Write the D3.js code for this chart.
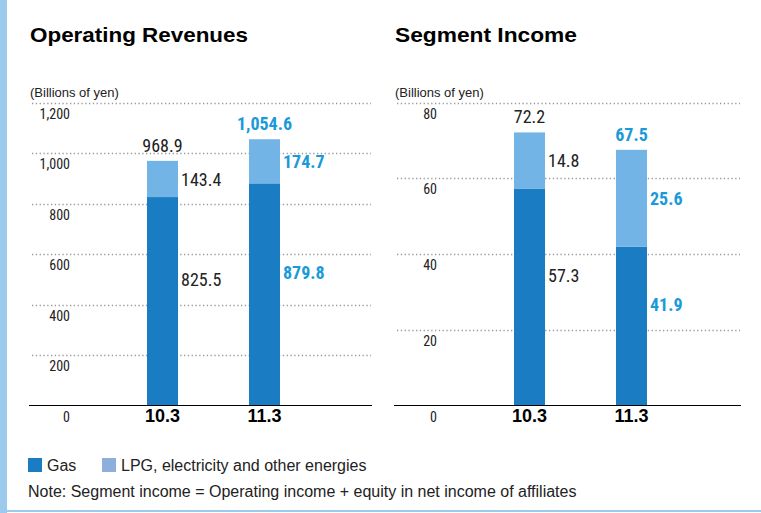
<!DOCTYPE html>
<html lang="en">
<head>
<meta charset="UTF-8">
<title>Operating Revenues / Segment Income</title>
<script src="https://d3js.org/d3.v7.min.js"></script>
<style>
  body { margin: 0; background: #fff; }
  svg { display: block; }
  .title { font-family: "Liberation Sans", Arial, sans-serif; font-weight: bold; font-size: 21px; fill: #000; }
  .cond { font-family: "Roboto Condensed", "Liberation Sans Narrow", sans-serif; }
  .reg { font-family: "Liberation Sans", Arial, sans-serif; }
</style>
</head>
<body>
<svg width="761" height="513"></svg>
<script>
// data
var years = ["10.3", "11.3"];
var seriesNames = ["Gas", "LPG, electricity and other energies"];
var revGas = [825.5, 879.8];
var revLpg = [143.4, 174.7];
var revTotal = [968.9, 1054.6];
var incGas = [57.3, 41.9];
var incLpg = [14.8, 25.6];
var incTotal = [72.2, 67.5];
var revTicks = [0, 200, 400, 600, 800, 1000, 1200];
var incTicks = [0, 20, 40, 60, 80];

var gasColor = "#1a7dc4", lpgColor = "#73b4e6", hiText = "#1a9ad8", txt = "#222";

var svg = d3.select("svg");

// frame
svg.append("rect").attr("x", 0).attr("y", 0).attr("width", 7).attr("height", 513).attr("fill", "#9ccaec");
svg.append("rect").attr("x", 7).attr("y", 510).attr("width", 754).attr("height", 2).attr("fill", "#9ccaec");

function drawPanel(opt) {
  var g = svg.append("g");
  var y = d3.scaleLinear().domain([0, opt.max]).range([405.5, 102.5]);
  var x = d3.scaleBand().domain(years).range(opt.xr).paddingInner(0.696).paddingOuter(0.5);

  g.append("text").attr("class", "title").attr("x", opt.gx0 - 2).attr("y", 42)
    .attr("textLength", opt.titleW).attr("lengthAdjust", "spacingAndGlyphs").text(opt.title);
  g.append("text").attr("class", "reg").attr("x", opt.gx0 - 2).attr("y", 97)
    .attr("font-size", 13).attr("fill", txt).text("(Billions of yen)");

  // gridlines
  g.selectAll("line.grid").data(opt.ticks.filter(function(d) { return d > 0; })).enter()
    .append("line").attr("class", "grid")
    .attr("x1", opt.gx0).attr("x2", opt.gx1)
    .attr("y1", function(d) { return Math.round(y(d)) + 0.5; })
    .attr("y2", function(d) { return Math.round(y(d)) + 0.5; })
    .attr("stroke", "#999").attr("stroke-width", 1.4).attr("stroke-dasharray", "1.3,2.5");

  // tick labels (below gridline)
  g.selectAll("text.tick").data(opt.ticks).enter()
    .append("text").attr("class", "cond")
    .attr("x", opt.tx).attr("y", function(d) { return y(d) + 16; })
    .attr("text-anchor", "end").attr("font-size", 14).attr("fill", txt)
    .text(function(d) { return d3.format(",")(d); });

  var stacked = years.map(function(yr, i) {
    return { yr: yr, i: i, gas: opt.gas[i], lpg: opt.lpg[i], total: opt.total[i] };
  });

  // bars
  g.selectAll("rect.gas").data(stacked).enter().append("rect")
    .attr("x", function(d) { return x(d.yr); }).attr("width", x.bandwidth())
    .attr("y", function(d) { return y(d.gas); })
    .attr("height", function(d) { return y(0) - y(d.gas); })
    .attr("fill", gasColor);
  g.selectAll("rect.lpg").data(stacked).enter().append("rect")
    .attr("x", function(d) { return x(d.yr); }).attr("width", x.bandwidth())
    .attr("y", function(d) { return y(d.gas + d.lpg); })
    .attr("height", function(d) { return y(d.gas) - y(d.gas + d.lpg); })
    .attr("fill", lpgColor);

  function col(d) { return d.i === 1 ? hiText : txt; }
  function wt(d) { return d.i === 1 ? "bold" : "normal"; }

  // totals
  g.selectAll("text.tot").data(stacked).enter().append("text").attr("class", "cond")
    .attr("x", function(d) { return x(d.yr) + x.bandwidth() / 2; })
    .attr("y", function(d) { return y(d.total) - 9; })
    .attr("text-anchor", "middle").attr("font-size", 18)
    .attr("fill", col).attr("font-weight", wt)
    .text(function(d) { return d3.format(",.1f")(d.total); });
  // lpg labels
  g.selectAll("text.lpgl").data(stacked).enter().append("text").attr("class", "cond")
    .attr("x", function(d) { return x(d.yr) + x.bandwidth() + 3; })
    .attr("y", function(d) { return (y(d.gas) + y(d.gas + d.lpg)) / 2 + 7; })
    .attr("font-size", 18).attr("fill", col).attr("font-weight", wt)
    .text(function(d) { return d3.format(".1f")(d.lpg); });
  // gas labels
  g.selectAll("text.gasl").data(stacked).enter().append("text").attr("class", "cond")
    .attr("x", function(d) { return x(d.yr) + x.bandwidth() + 3; })
    .attr("y", function(d) { return (y(0) + y(d.gas)) / 2 - 15; })
    .attr("font-size", 18).attr("fill", col).attr("font-weight", wt)
    .text(function(d) { return d3.format(".1f")(d.gas); });

  // baseline + category axis
  g.append("line").attr("x1", opt.gx0 - 3).attr("x2", opt.gx1 + 1)
    .attr("y1", 405.5).attr("y2", 405.5).attr("stroke", "#000").attr("stroke-width", 1.2);
  var ax = g.append("g").attr("transform", "translate(0,406)")
    .call(d3.axisBottom(x).tickSize(0).tickPadding(3));
  ax.select(".domain").remove();
  ax.selectAll("text").attr("font-family", "Liberation Sans, Arial, sans-serif")
    .attr("font-weight", "bold").attr("font-size", 18).attr("fill", "#000");
}

drawPanel({ title: "Operating Revenues", titleW: 218, max: 1200, ticks: revTicks, gas: revGas, lpg: revLpg, total: revTotal,
  gx0: 32, gx1: 371, tx: 70, xr: [96, 331] });
drawPanel({ title: "Segment Income", titleW: 182, max: 80, ticks: incTicks, gas: incGas, lpg: incLpg, total: incTotal,
  gx0: 397, gx1: 740, tx: 437, xr: [463, 698] });

// legend
var leg = svg.append("g").attr("transform", "translate(28,458)");
var legColors = [gasColor, "#8eaedc"];
var legX = [0, 74];
seriesNames.forEach(function(n, i) {
  leg.append("rect").attr("x", legX[i]).attr("y", 0).attr("width", 14).attr("height", 14).attr("fill", legColors[i]);
  leg.append("text").attr("class", "reg").attr("x", legX[i] + 19).attr("y", 13)
    .attr("font-size", 16).attr("fill", txt).text(n);
});
svg.append("text").attr("class", "reg").attr("x", 28).attr("y", 497)
  .attr("font-size", 16).attr("fill", txt)
  .text("Note: Segment income = Operating income + equity in net income of affiliates");
</script>
</body>
</html>
